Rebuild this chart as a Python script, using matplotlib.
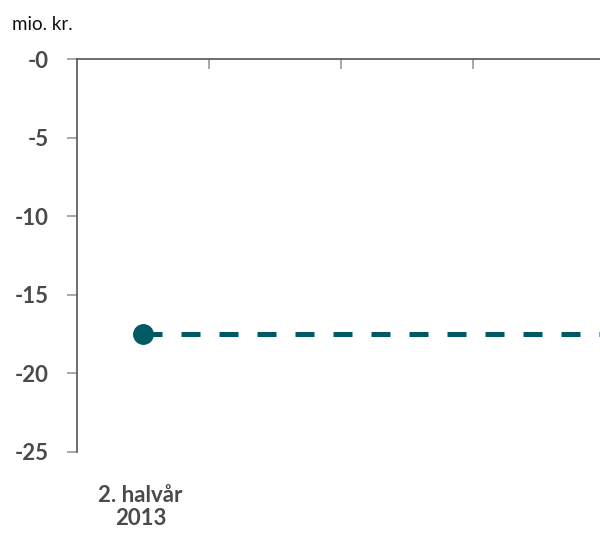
import matplotlib.pyplot as plt
import numpy as np

plt.rcParams['font.family'] = ['Lato', 'DejaVu Sans']

# data
categories = ['2. halvår\n2013', '', '', '']
values = [-17.5, np.nan, np.nan, np.nan]
yticks = [0, -5, -10, -15, -20, -25]
ytick_labels = ['-0', '-5', '-10', '-15', '-20', '-25']

teal = '#005a64'
grey = '#4a4a4a'

fig = plt.figure(figsize=(6, 5.34), dpi=100)
ax = fig.add_axes([77/600, 1-452/534, 523/600, (452-59)/534])

x = np.arange(len(categories))
ax.plot(x, values, marker='o', markersize=14, color=teal, linestyle='none', zorder=3)
# dashed level line from the last known point to the right edge
xmax = -0.5 + 523/132
ax.plot([x[0], xmax], [values[0], values[0]], color=teal, linewidth=3.6,
        dashes=(3.8, 3.8), solid_capstyle='butt', dash_capstyle='butt', zorder=2)

ax.set_xlim(-0.5, xmax)
ax.set_ylim(-25, 0)

for s in ['right', 'bottom']:
    ax.spines[s].set_visible(False)
ax.spines['left'].set_color('#555555')
ax.spines['top'].set_color('#555555')
ax.spines['left'].set_linewidth(1.2)
ax.spines['top'].set_linewidth(1.2)

ax.set_yticks(yticks)
ax.set_yticklabels(ytick_labels, fontsize=16, fontweight='bold', color=grey)
ax.tick_params(axis='y', length=7.2, width=1.2, color='#999999', pad=13)

ax.xaxis.tick_top()
ax.set_xticks([0.5, 1.5, 2.5])
ax.set_xticklabels([])
ax.tick_params(axis='x', direction='in', length=7.2, width=1.2, color='#999999')

for xi, lab in zip(x, categories):
    if lab:
        ax.text(xi - 0.02, -28.5, lab, ha='center', va='center', fontsize=16,
                fontweight='bold', color=grey, linespacing=1.15, clip_on=False)

fig.text(12/600, 1-25/534, 'mio. kr.', fontsize=13.5, color='#111111', va='center', ha='left')

fig.savefig('out.png', dpi=100)
